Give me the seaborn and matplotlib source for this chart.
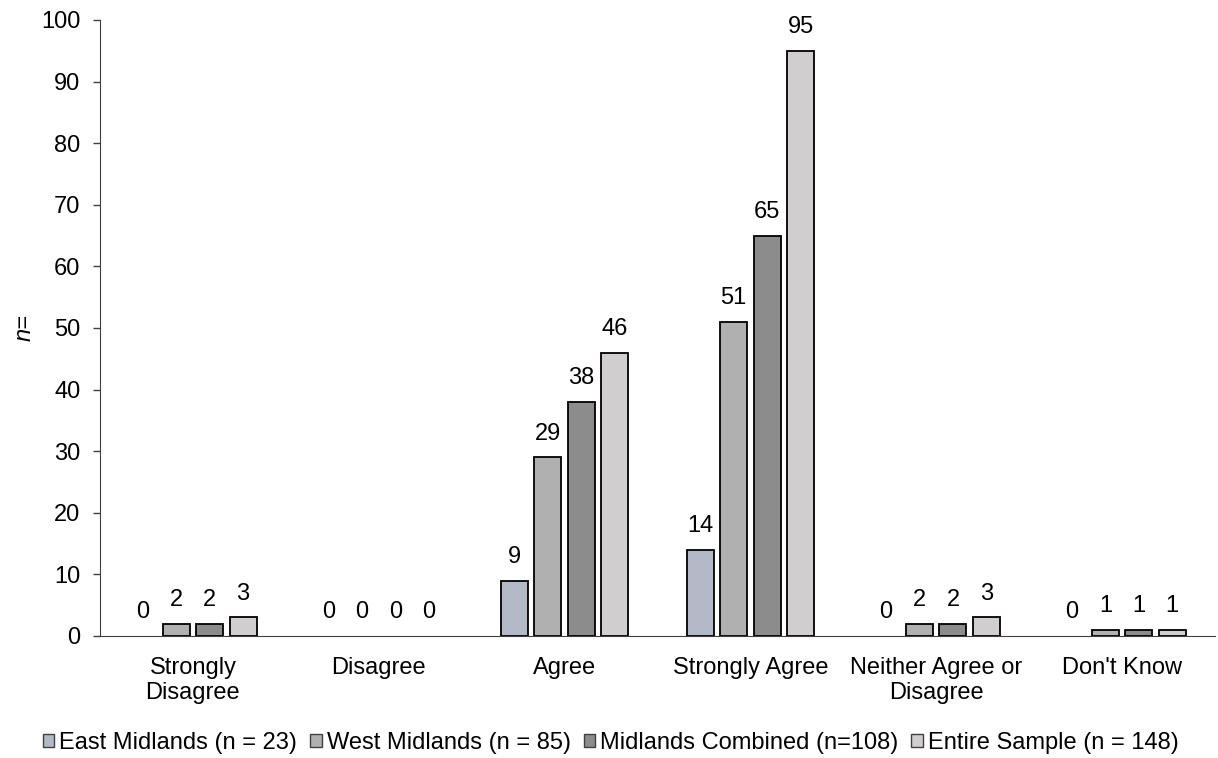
import matplotlib
matplotlib.use("Agg")
import matplotlib.pyplot as plt
import pandas as pd
import seaborn as sns

# Categories and series (counts)
categories = ["Strongly\nDisagree", "Disagree", "Agree", "Strongly Agree",
              "Neither Agree or\nDisagree", "Don't Know"]
series_names = ["East Midlands (n = 23)", "West Midlands (n = 85)",
                "Midlands Combined (n=108)", "Entire Sample (n = 148)"]
east_midlands = [0, 0, 9, 14, 0, 0]
west_midlands = [2, 0, 29, 51, 2, 1]
midlands_combined = [2, 0, 38, 65, 2, 1]
entire_sample = [3, 0, 46, 95, 3, 1]

bar_colors = ["#ADB9CA", "#B0B0B0", "#8C8C8C", "#D0CECE"]

# long format table for seaborn
rows = []
for name, vals in zip(series_names, [east_midlands, west_midlands, midlands_combined, entire_sample]):
    for cat, v in zip(categories, vals):
        rows.append({"category": cat, "series": name, "n": v})
df = pd.DataFrame(rows)

sns.set_style("white")
plt.rcParams['font.family'] = ['Liberation Sans', 'DejaVu Sans']
plt.rcParams['text.color'] = 'black'
plt.rcParams['axes.labelcolor'] = 'black'
plt.rcParams['xtick.color'] = 'black'
plt.rcParams['ytick.color'] = 'black'

fs = 17

fig = plt.figure(figsize=(12.18, 7.58), dpi=100)
ax = fig.add_axes([0.0821, 0.161, 0.9154, 0.8127])

sns.barplot(data=df, x="category", y="n", hue="series", order=categories,
            hue_order=series_names, palette=bar_colors, width=0.72, gap=0.19,
            edgecolor="black", linewidth=1.3, errorbar=None, ax=ax)

# value labels on top of each bar, zero bars hidden (only the label shows)
for cont in ax.containers:
    for bar in cont:
        if bar.get_height() == 0:
            bar.set_linewidth(0)
    ax.bar_label(cont, fmt="%d", padding=9, fontsize=fs)

ax.set_ylim(0, 100)
ax.set_xlim(-0.5, 5.5)
ax.set_yticks(range(0, 101, 10))
ax.tick_params(axis="y", labelsize=fs, length=5, width=1, direction="out", left=True, color="#404040", pad=9)
ax.tick_params(axis="x", labelsize=fs, length=0, pad=15)
ax.set_xlabel("")
ax.set_ylabel("n=", fontsize=fs, style="italic", labelpad=4)

for side in ["top", "right"]:
    ax.spines[side].set_visible(False)
ax.spines["left"].set_color("#404040")
ax.spines["bottom"].set_color("#404040")

leg = ax.legend(loc="center", bbox_to_anchor=(0.458, -0.174), ncol=4, frameon=False,
                fontsize=fs, handlelength=0.5, handleheight=0.5, handletextpad=0.2,
                columnspacing=0.55)
for h in leg.legend_handles:
    h.set_linewidth(1.0)
    h.set_edgecolor("#404040")

fig.savefig("out.png", dpi=100)
